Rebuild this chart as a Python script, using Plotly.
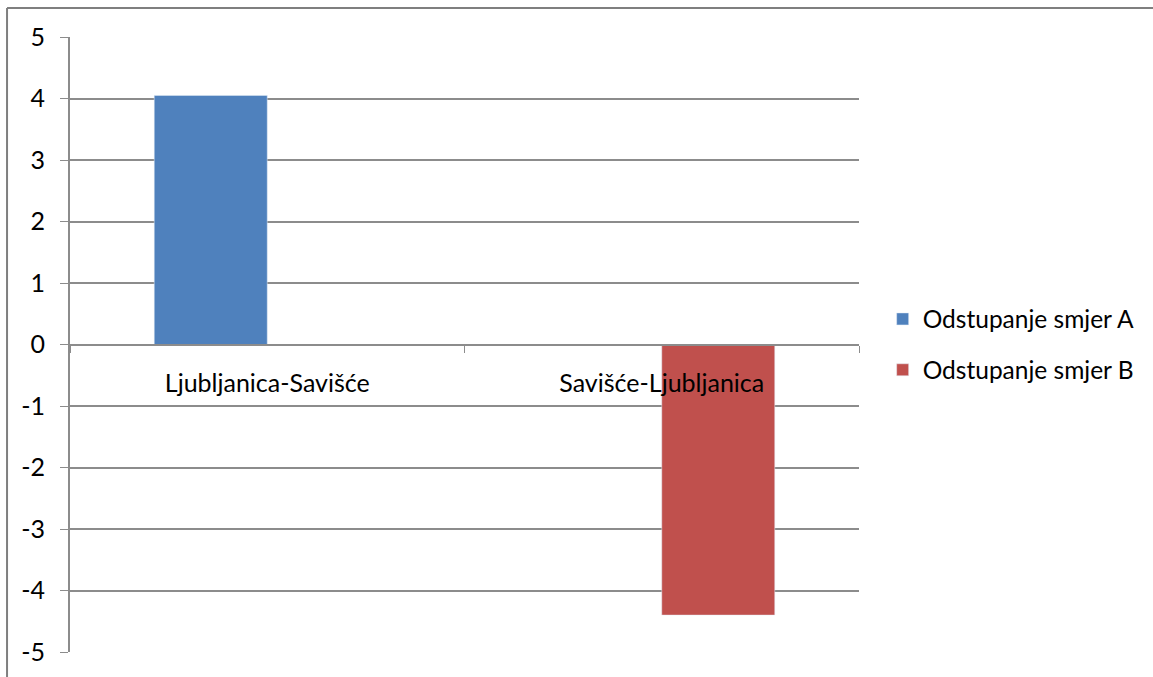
import plotly.graph_objects as go

categories = ["Ljubljanica-Savišće", "Savišće-Ljubljanica"]
series_names = ["Odstupanje smjer A", "Odstupanje smjer B"]
values_a = [4.05, None]
values_b = [None, -4.4]
y_ticks = [5, 4, 3, 2, 1, 0, -1, -2, -3, -4, -5]
y_tick_text = ["5", "4", "3", "2", "1", "0", "-1", "-2", "-3", "-4", "-5"]

FONT = "Lato"
GRID = "#8c8c8c"

fig = go.Figure()
fig.add_trace(go.Bar(name=series_names[0], x=categories, y=values_a,
                     marker_color="#4F81BD", legendgroup="a"))
fig.add_trace(go.Bar(name=series_names[1], x=categories, y=values_b,
                     marker_color="#C0504D", legendgroup="b"))

fig.update_layout(
    width=1153, height=677,
    margin=dict(l=70, r=294, t=37, b=25),
    paper_bgcolor="white", plot_bgcolor="white",
    barmode="group", bargap=0.427, bargroupgap=0,
    font=dict(family=FONT, size=25, color="black"),
    showlegend=True,
    legend=dict(x=1.030, y=0.5, xanchor="left", yanchor="middle",
                font=dict(family=FONT, size=24.5), tracegroupgap=16,
                bgcolor="rgba(0,0,0,0)"),
    xaxis=dict(
        anchor="free", position=0.5, showline=True, linecolor=GRID, linewidth=2,
        ticks="outside", tickson="boundaries", ticklen=7, tickcolor=GRID, tickwidth=1,
        showgrid=False, zeroline=False, tickfont=dict(family=FONT, size=25),
        ticklabelstandoff=16,
    ),
    yaxis=dict(
        range=[-5, 5], tickvals=y_ticks, ticktext=y_tick_text,
        showline=True, linecolor=GRID, linewidth=2,
        ticks="outside", ticklen=8, tickcolor=GRID, tickwidth=1,
        showgrid=True, gridcolor=GRID, gridwidth=2, zeroline=False,
        tickfont=dict(family=FONT, size=25), ticklabelstandoff=10,
    ),
    shapes=[
        dict(type="line", xref="paper", yref="paper", x0=-0.0798, x1=1.4, y0=1.047, y1=1.047,
             line=dict(color="#7f7f7f", width=2)),
        dict(type="line", xref="paper", yref="paper", x0=-0.0798, x1=-0.0798, y0=1.047, y1=-0.2,
             line=dict(color="#7f7f7f", width=2)),
    ],
)

fig.write_html("out.html", config={"displayModeBar": False},
               post_script="document.body.style.margin='0';")
